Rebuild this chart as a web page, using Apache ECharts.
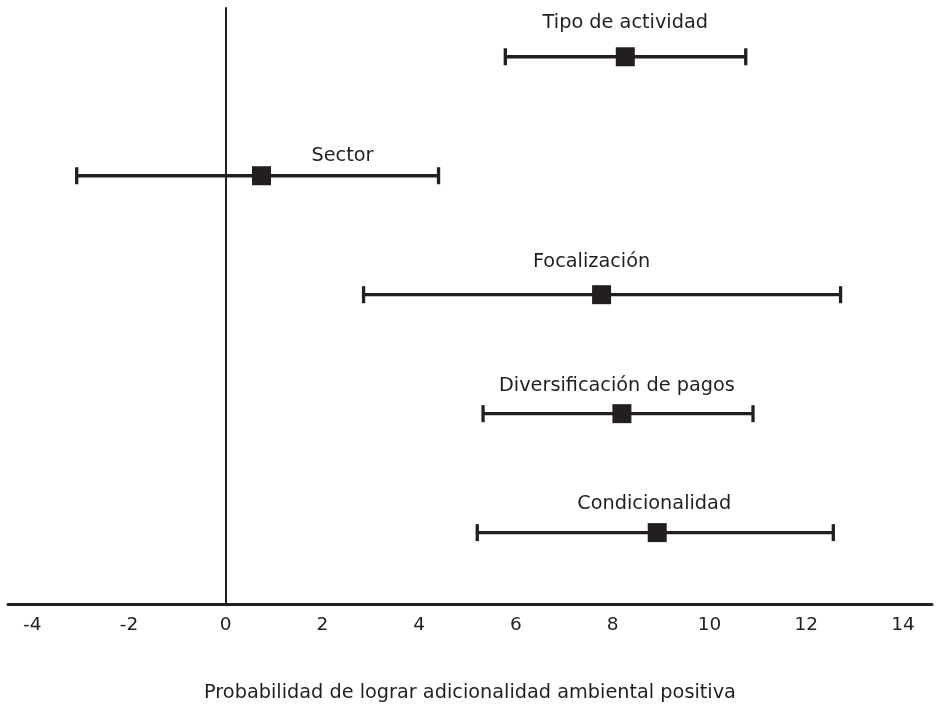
<!DOCTYPE html>
<html>
<head>
<meta charset="utf-8">
<script src="https://cdn.jsdelivr.net/npm/echarts@6/dist/echarts.min.js"></script>
<style>html,body{margin:0;padding:0;background:#fff}#c{width:936px;height:707px}</style>
</head>
<body>
<div id="c"></div>
<script>
// Data (bottom to top position = index + 1)
const categories = ['Condicionalidad', 'Diversificación de pagos', 'Focalización', 'Sector', 'Tipo de actividad'];
const estimates = [8.92, 8.19, 7.77, 0.74, 8.26];
const lowerBounds = [5.20, 5.32, 2.85, -3.08, 5.78];
const upperBounds = [12.56, 10.90, 12.71, 4.40, 10.75];
const xTickLabels = [-4, -2, 0, 2, 4, 6, 8, 10, 12, 14];
const axisTitle = 'Probabilidad de lograr adicionalidad ambiental positiva';

// Styling (label shifts in pixels relative to the marker)
const labelShiftX = [-3, -5, -10, 81, 0];
const labelShiftY = [-29, -28, -33, -20, -34];
const INK = '#231f20';
const FONT = '"DejaVu Sans", sans-serif';
const FS = 19.3;

const seriesData = categories.map((c, i) => [i + 1, lowerBounds[i], estimates[i], upperBounds[i]]);

const chart = echarts.init(document.getElementById('c'));
chart.setOption({
  animation: false,
  backgroundColor: '#fff',
  grid: { left: 8, right: 4, top: 8, bottom: 103, containLabel: false },
  xAxis: {
    type: 'value', min: -4.5, max: 14.6,
    axisLine: { show: true, onZero: false, lineStyle: { color: INK, width: 3 } },
    axisTick: { show: false },
    splitLine: { show: false },
    axisLabel: { customValues: xTickLabels, color: INK, fontSize: 18.5, fontFamily: FONT, margin: 12 },
    name: axisTitle, nameLocation: 'middle', nameGap: 79,
    nameTextStyle: { color: INK, fontSize: FS, fontFamily: FONT }
  },
  yAxis: {
    type: 'value', min: 0.4, max: 5.41,
    axisLine: { show: true, onZero: true, lineStyle: { color: INK, width: 2 } },
    axisTick: { show: false }, axisLabel: { show: false }, splitLine: { show: false }
  },
  series: [{
    type: 'custom',
    data: seriesData,
    encode: { x: [1, 2, 3], y: 0 },
    renderItem: function (params, api) {
      const idx = params.dataIndex;
      const y = api.value(0);
      const lo = api.coord([api.value(1), y]);
      const mid = api.coord([api.value(2), y]);
      const hi = api.coord([api.value(3), y]);
      const cap = 8.5, sq = 19;
      const ls = { stroke: INK, lineWidth: 3.3 };
      return {
        type: 'group',
        children: [
          { type: 'line', shape: { x1: lo[0], y1: lo[1], x2: hi[0], y2: hi[1] }, style: ls },
          { type: 'line', shape: { x1: lo[0], y1: lo[1] - cap, x2: lo[0], y2: lo[1] + cap }, style: ls },
          { type: 'line', shape: { x1: hi[0], y1: hi[1] - cap, x2: hi[0], y2: hi[1] + cap }, style: ls },
          { type: 'rect', shape: { x: mid[0] - sq / 2, y: mid[1] - sq / 2, width: sq, height: sq }, style: { fill: INK } },
          { type: 'text', x: mid[0] + labelShiftX[idx], y: mid[1] + labelShiftY[idx],
            style: { text: categories[idx], fill: INK, fontSize: FS, fontFamily: FONT, align: 'center', verticalAlign: 'middle' } }
        ]
      };
    }
  }]
});
</script>
</body>
</html>
